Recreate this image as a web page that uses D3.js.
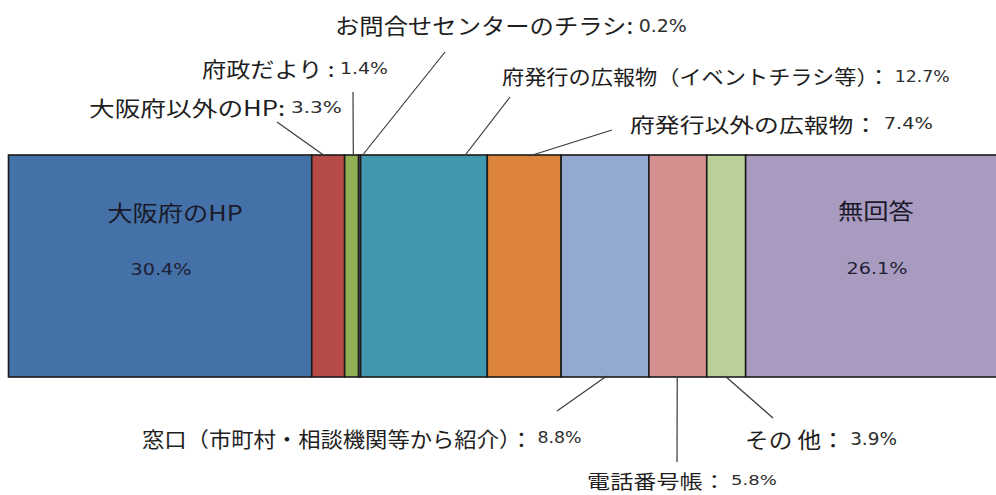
<!DOCTYPE html>
<html><head><meta charset="utf-8">
<script src="https://cdn.jsdelivr.net/npm/d3@7"></script>
<style>
html,body{margin:0;padding:0;background:#fff;}
svg{display:block;}
</style></head>
<body>
<svg id="chart" width="996" height="495"></svg>
<script>
// ---- data ----
const categories = ["大阪府のHP","大阪府以外のHP","府政だより","お問合せセンターのチラシ","府発行の広報物（イベントチラシ等）","府発行以外の広報物","窓口（市町村・相談機関等から紹介）","電話番号帳","その 他","無回答"];
const values = [30.4, 3.3, 1.4, 0.2, 12.7, 7.4, 8.8, 5.8, 3.9, 26.1];
const colors = ["#4471a8","#b54a46","#91b055","#7d6a9a","#4097ae","#dd843c","#93a9cf","#d48f8f","#bbcf98","#a99bc0"];
const series = ["回答"];

// ---- layout (annotation placement) ----
const callouts = [
  {i:1, x0:89,  x1:342, cy:107, fs:21, lx:277, ly:122, f:0.40, side:"top", sep:": "},
  {i:2, x0:202, x1:388, cy:68,  fs:21, lx:353, ly:92,  f:0.62, side:"top", sep:" : "},
  {i:3, x0:335, x1:687, cy:25,  fs:22, lx:445, ly:52,  f:1.6,  side:"top", sep:": "},
  {i:4, x0:502, x1:950, cy:76,  fs:20, lx:510, ly:97,  f:0.82, side:"top", sep:"：  "},
  {i:5, x0:630, x1:933, cy:124, fs:20, lx:612, ly:130, f:0.57, side:"top", sep:"： "},
  {i:6, x0:142, x1:582, cy:437, fs:21, lx:557, ly:411, f:0.52, side:"bottom", sep:"： "},
  {i:7, x0:587, x1:777, cy:480, fs:19, lx:677, ly:462, f:0.49, side:"bottom", sep:"： "},
  {i:8, x0:745, x1:897, cy:438, fs:22, lx:773, ly:418, f:0.47, side:"bottom", sep:"： "}
];
const inside = [
  {i:0, nx:175, ny:212, vx:161, vy:270},
  {i:9, nx:876, ny:210, vx:877, vy:269}
];

const svg = d3.select("#chart");
const x = d3.scaleLinear().domain([0, 100]).range([8.5, 1006]);
const y = d3.scaleBand().domain(series).range([155, 377]).padding(0);

const stackData = [Object.fromEntries(categories.map((c,k)=>[c, values[k]]))];
const stacked = d3.stack().keys(categories)(stackData);

const cjk = "'Noto Sans CJK JP','Noto Sans CJK SC',sans-serif";
const num = "'DejaVu Sans','Verdana',sans-serif";

// bars
svg.append("g").selectAll("rect").data(stacked).join("rect")
  .attr("x", d => x(d[0][0]))
  .attr("y", y(series[0]))
  .attr("width", d => Math.max(0, x(d[0][1]) - x(d[0][0])))
  .attr("height", y.bandwidth())
  .attr("fill", (d,k) => colors[k])
  .attr("stroke", "#1b1b1b")
  .attr("stroke-width", 1.6);

// leader lines
const gl = svg.append("g");
callouts.forEach(c => {
  const s = stacked[c.i][0];
  const ax = x(s[0] + (s[1]-s[0]) * c.f);
  const ay = c.side === "top" ? y(series[0]) + 1 : y(series[0]) + y.bandwidth() - 1;
  gl.append("line").attr("x1", c.lx).attr("y1", c.ly).attr("x2", ax).attr("y2", ay)
    .attr("stroke", "#3a3a3a").attr("stroke-width", 1.2);
});

// callout labels
const gt = svg.append("g");
callouts.forEach(c => {
  const g = gt.append("g");
  const t = g.append("text").attr("dominant-baseline", "central").attr("x", 0).attr("y", 0);
  t.append("tspan").attr("font-family", cjk).attr("font-size", c.fs).attr("fill", "#1e1e1e")
    .text(categories[c.i]);
  t.append("tspan").attr("font-family", cjk).attr("font-size", c.fs).attr("fill", "#1e1e1e")
    .text(c.sep);
  t.append("tspan").attr("font-family", num).attr("font-size", c.fs * 0.78).attr("fill", "#2e2e2e")
    .attr("font-weight", 500)
    .text(values[c.i].toFixed(1) + "%");
  const w = t.node().getComputedTextLength();
  const sx = (c.x1 - c.x0) / w;
  g.attr("transform", `translate(${c.x0},${c.cy}) scale(${sx},1)`);
});

// inside labels
inside.forEach(c => {
  gt.append("text").attr("x", c.nx).attr("y", c.ny).attr("text-anchor", "middle")
    .attr("dominant-baseline", "central").attr("font-family", cjk).attr("font-size", 22)
    .attr("fill", "#1a1a2a").attr("transform", `translate(${c.nx},0) scale(1.15,1) translate(${-c.nx},0)`)
    .text(categories[c.i]);
  gt.append("text").attr("x", c.vx).attr("y", c.vy).attr("text-anchor", "middle")
    .attr("dominant-baseline", "central").attr("font-family", num).attr("font-size", 16)
    .attr("fill", "#1e1e34").attr("transform", `translate(${c.vx},0) scale(1.2,1) translate(${-c.vx},0)`)
    .text(values[c.i].toFixed(1) + "%");
});
</script>
</body></html>
